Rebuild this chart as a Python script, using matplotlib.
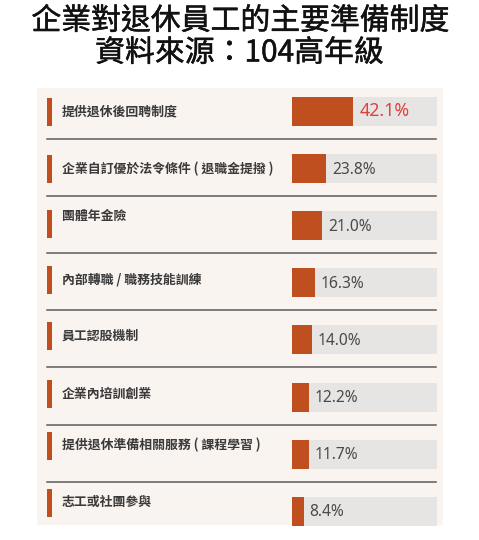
import matplotlib
matplotlib.use("Agg")
import matplotlib.pyplot as plt
from matplotlib.patches import Rectangle
import matplotlib.patheffects as pe

plt.rcParams['font.family'] = ['Noto Sans CJK TC', 'DejaVu Sans']

title_lines = ["企業對退休員工的主要準備制度", "資料來源：104高年級"]
categories = [
    "提供退休後回聘制度",
    "企業自訂優於法令條件 ( 退職金提撥 )",
    "團體年金險",
    "內部轉職 / 職務技能訓練",
    "員工認股機制",
    "企業內培訓創業",
    "提供退休準備相關服務 ( 課程學習 )",
    "志工或社團參與",
]
values = [42.1, 23.8, 21.0, 16.3, 14.0, 12.2, 11.7, 8.4]

# layout (pixels)
W, H = 479, 540
row0, row_step, bar_h = 111.5, 57.1, 29
label_off = [0, 0, 10, 3, 4, 3, 9, 9]
marker_off = [0, 0, 2, 3, 4, 3, 8, 8]
bar_left, bar_right = 291.5, 437

orange = "#BF4F1E"
track = "#E7E5E3"
panel = "#FAF4F1"

fig = plt.figure(figsize=(W / 100, H / 100), dpi=100)
fig.patch.set_facecolor("white")
ax = fig.add_axes([0, 0, 1, 1])
ax.set_xlim(0, W)
ax.set_ylim(H, 0)
ax.axis("off")

ax.add_patch(Rectangle((37, 88), 406, 437, facecolor=panel, edgecolor="none", zorder=0))

thick = [pe.withStroke(linewidth=0.35, foreground="#111111")]
ax.text(W / 2 + 1, 21, title_lines[0], ha="center", va="center", fontsize=21.5,
        color="#111111", path_effects=thick)
ax.text(W / 2, 53, title_lines[1], ha="center", va="center", fontsize=21.5,
        color="#111111", path_effects=thick)

centers = [row0 + row_step * i for i in range(len(values))]

for i, (cat, c) in enumerate(zip(categories, centers)):
    mc = c - marker_off[i]
    ax.add_patch(Rectangle((47.5, mc - 14), 5, 28, facecolor=orange, edgecolor="none", zorder=2))
    ax.text(62, c - label_off[i], cat, ha="left", va="center", fontsize=9.3,
            fontweight="bold", color="#3a3a3a")
    if i < len(values) - 1:
        ax.plot([47, 436], [c + 27.5, c + 27.5], color="#5a5a5a", lw=1.1, zorder=2)

bx = fig.add_axes([bar_left / W, 0, (bar_right - bar_left) / W, 1])
bx.set_xlim(0, 100)
bx.set_ylim(H, 0)
bx.axis("off")
bx.patch.set_alpha(0)
bx.barh(centers, [100] * len(values), height=bar_h, color=track, zorder=1)
bx.barh(centers, values, height=bar_h, color=orange, zorder=2)
for i, (v, c) in enumerate(zip(values, centers)):
    if i == 0:
        bx.text(v + 4.5, c, f"{v:.1f}%", ha="left", va="center", fontsize=12.8,
                color="#E0403A", family=["Noto Sans", "DejaVu Sans"], zorder=3)
    else:
        bx.text(v + 4.0, c + 1, f"{v:.1f}%", ha="left", va="center", fontsize=11.2,
                color="#4a4a4a", family=["Noto Sans", "DejaVu Sans"], zorder=3)

fig.savefig("out.png", dpi=100, facecolor="white")
